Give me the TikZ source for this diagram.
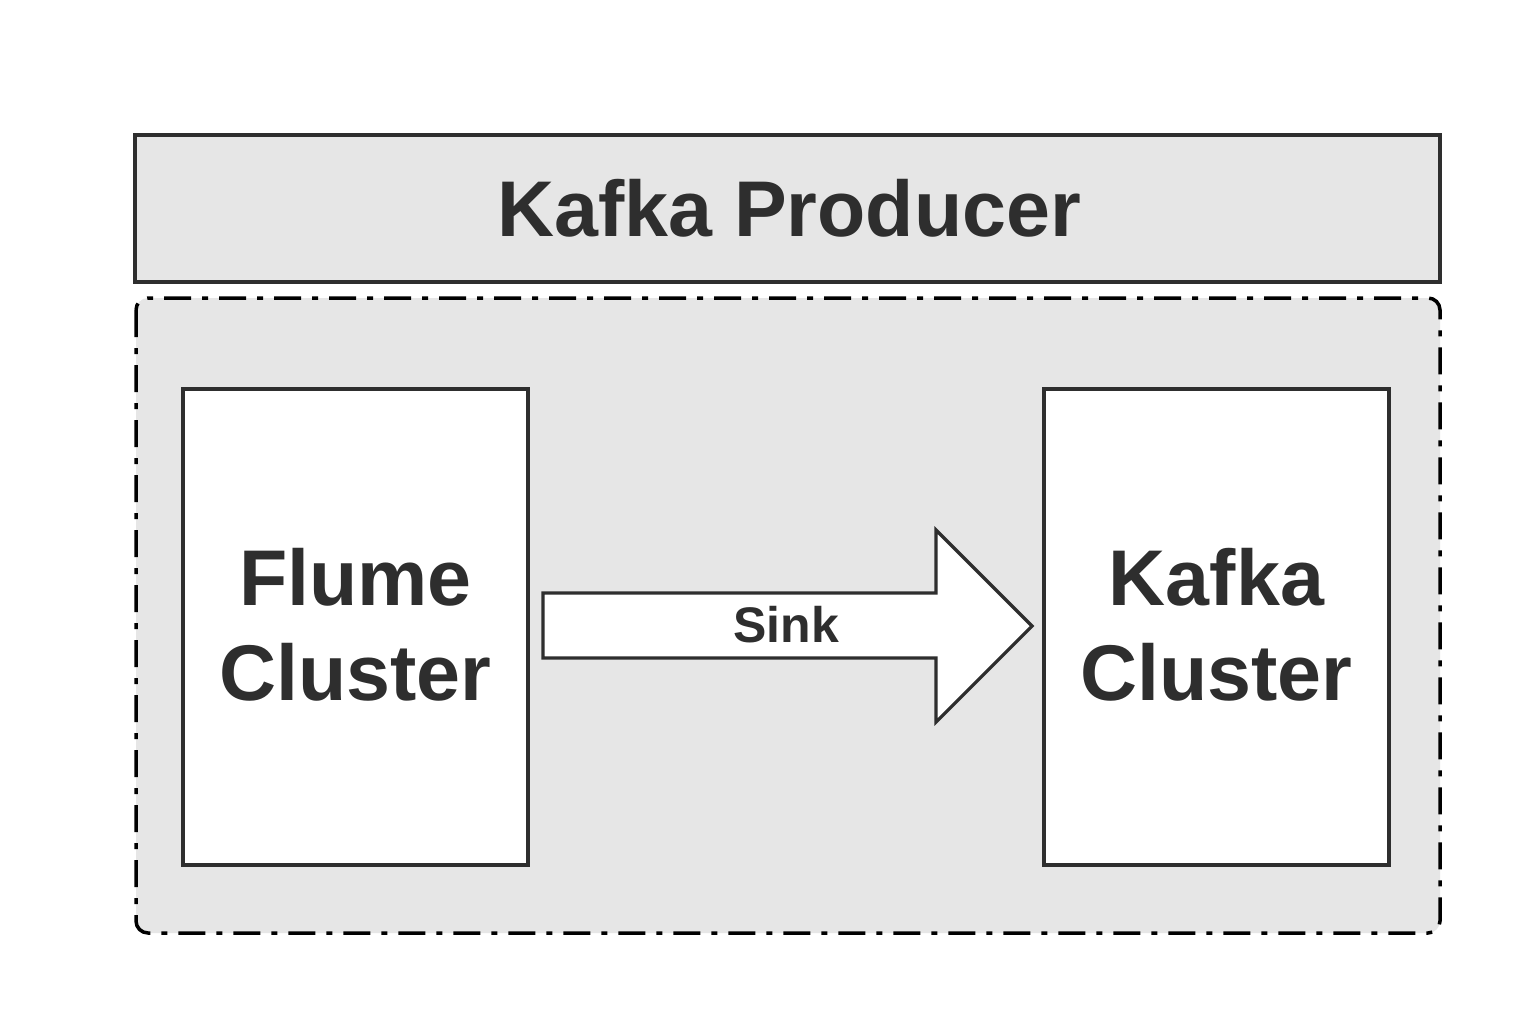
\documentclass[tikz,border=0pt]{standalone}
\usepackage{fontspec}
\setmainfont{Liberation Sans}
\definecolor{ink}{HTML}{2E2E2E}
\definecolor{panel}{HTML}{E6E6E6}
\begin{document}
\begin{tikzpicture}[x=1pt,y=-1pt,
  box/.style={draw=ink,line width=4pt},
  big/.style={font=\fontsize{79}{95}\selectfont\bfseries,text=ink,align=center},
  lbl/.style={font=\fontsize{50}{60}\selectfont\bfseries,text=ink}]
\useasboundingbox (0,0) rectangle (1530,1024);
\fill[white] (0,0) rectangle (1530,1024);
% top box
\draw[box,fill=panel] (135,135) rectangle (1440,282);
\node[big] (prod) at (789,208) {Kafka Producer};
% dashed container
\draw[draw=black,line width=3.5pt,fill=panel,rounded corners=12pt,
  dash pattern=on 27pt off 11pt on 6pt off 11pt] (136,298) rectangle (1440,933);
% clusters
\draw[box,fill=white] (183,389) rectangle (528,865);
\node[big] (flume) at (355.5,625) {Flume\\Cluster};
\draw[box,fill=white] (1044,389) rectangle (1389,865);
\node[big] (kafka) at (1216.5,625) {Kafka\\Cluster};
% arrow
\draw[box,line width=3.2pt,fill=white,line join=miter]
  (543,593) -- (936,593) -- (936,530) -- (1032,626) -- (936,722) -- (936,658) -- (543,658) -- cycle;
\node[lbl] (sink) at (786,625) {Sink};
\end{tikzpicture}
\end{document}
